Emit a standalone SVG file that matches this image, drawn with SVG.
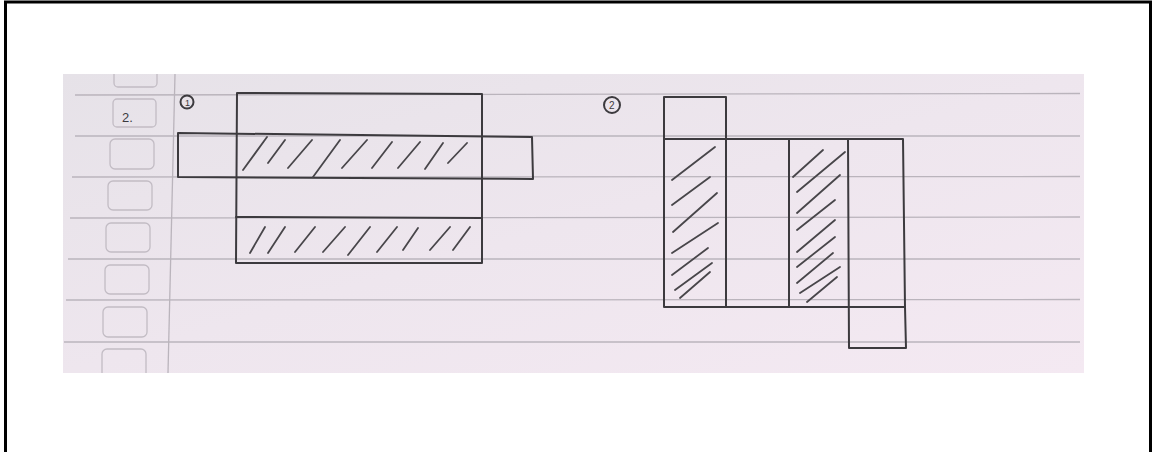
<svg xmlns="http://www.w3.org/2000/svg" width="1154" height="452" viewBox="0 0 1154 452">
<defs>
<linearGradient id="paper" x1="0" y1="0" x2="1" y2="1">
<stop offset="0" stop-color="#e6e2e8"/>
<stop offset="0.5" stop-color="#eee6ee"/>
<stop offset="1" stop-color="#f4e9f2"/>
</linearGradient>
<clipPath id="sheetclip"><rect x="63" y="74" width="1021" height="299"/></clipPath>
<style>
.rule{stroke:#bab4bc;stroke-width:1.3;fill:none}
.box{stroke:#c2bcc4;stroke-width:1.3;fill:none}
.ink{stroke:#3c3a3e;stroke-width:2;fill:none;stroke-linecap:round;stroke-linejoin:round}
.hatch{stroke:#48464a;stroke-width:1.8;fill:none;stroke-linecap:round}
.txt{font-family:"Liberation Sans",Arial,sans-serif;fill:#3c3a3e}
</style>
</defs>
<rect width="1154" height="452" fill="#ffffff"/>
<path d="M5.5 452 V2 H1150.5 V452" fill="none" stroke="#000" stroke-width="3"/>
<g id="paper-sheet" clip-path="url(#sheetclip)">
<rect x="63" y="74" width="1021" height="299" fill="url(#paper)"/>
<g id="ruled-lines">
<path class="rule" d="M75 95 L1080 93.5"/>
<path class="rule" d="M75 136 L1080 136"/>
<path class="rule" d="M72 177 L1080 176.5"/>
<path class="rule" d="M70 218 L1080 217"/>
<path class="rule" d="M68 259 L1080 259"/>
<path class="rule" d="M66 300 L1080 299.5"/>
<path class="rule" d="M64 342 L1080 342"/>
<path class="rule" d="M175 74 L168 373" stroke-width="1"/>
</g>
<g id="margin-boxes">
<rect class="box" x="114" y="62" width="43" height="25" rx="4"/>
<rect class="box" x="113" y="99" width="43" height="28" rx="4"/>
<rect class="box" x="110" y="139" width="44" height="30" rx="5"/>
<rect class="box" x="108" y="181" width="44" height="29" rx="5"/>
<rect class="box" x="106" y="223" width="44" height="29" rx="5"/>
<rect class="box" x="105" y="265" width="44" height="29" rx="5"/>
<rect class="box" x="103" y="307" width="44" height="30" rx="5"/>
<rect class="box" x="102" y="349" width="44" height="30" rx="5"/>
<text class="txt" x="122" y="122" font-size="13">2.</text>
</g>
</g>
<g id="figure-1">
<circle cx="187" cy="102" r="6.5" class="ink" stroke-width="1.5"/>
<text class="txt" x="185" y="106" font-size="9">1</text>
<path class="ink" d="M237 93 L482 94 L482 263 L236 263 Z"/>
<path class="ink" d="M178 133 L532 137 L533 179 L178 177 Z"/>
<path class="ink" d="M236 217 L482 218"/>
<g id="hatch-1a">
<path class="hatch" d="M243 170 L267 137 M268 163 L285 140 M288 168 L312 140 M313 177 L340 140 M342 168 L367 140 M372 168 L392 142 M398 168 L420 142 M425 169 L443 143 M448 163 L467 143"/>
</g>
<g id="hatch-1b">
<path class="hatch" d="M250 253 L265 227 M268 253 L285 227 M295 252 L315 227 M323 252 L345 227 M348 255 L370 227 M377 252 L397 227 M403 250 L418 228 M430 250 L450 227 M453 250 L470 227"/>
</g>
</g>
<g id="figure-2">
<circle cx="612" cy="105" r="8" class="ink" stroke-width="1.5"/>
<text class="txt" x="609" y="109" font-size="10">2</text>
<path class="ink" d="M664 139 L664 97 L726 97 L726 307"/>
<path class="ink" d="M664 139 L903 139 L905 307 L664 307 Z"/>
<path class="ink" d="M789 139 L789 307"/>
<path class="ink" d="M848 139 L849 348 L906 348 L905 307"/>
<g id="hatch-2a">
<path class="hatch" d="M672 180 L715 147 M672 205 L710 177 M673 232 L717 193 M672 253 L718 223 M672 275 L708 248 M675 290 L712 263 M680 298 L710 272"/>
</g>
<g id="hatch-2b">
<path class="hatch" d="M793 177 L823 150 M797 192 L845 152 M797 213 L840 175 M797 230 L835 200 M797 252 L835 220 M797 267 L835 237 M797 283 L833 253 M800 293 L840 267 M807 302 L837 277"/>
</g>
</g>
</svg>
